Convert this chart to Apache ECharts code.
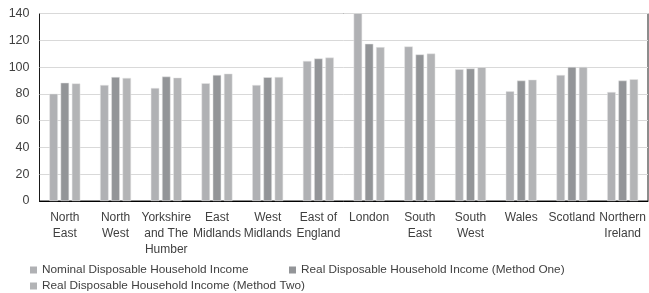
<!DOCTYPE html>
<html>
<head>
<meta charset="utf-8">
<script src="https://cdn.jsdelivr.net/npm/echarts@6/dist/echarts.min.js"></script>
<style>
  html, body { margin: 0; padding: 0; background: #fff; }
  #chart { width: 649px; height: 293px; }
</style>
</head>
<body>
<div id="chart"></div>
<script>
var regions = ['North\nEast', 'North\nWest', 'Yorkshire\nand The\nHumber', 'East\nMidlands', 'West\nMidlands',
  'East of\nEngland', 'London', 'South\nEast', 'South\nWest', 'Wales', 'Scotland', 'Northern\nIreland']
var nominal = [80.1, 86.6, 84.4, 87.9, 86.6, 104.6, 145, 115.4, 98.4, 81.9, 94.1, 81.4]
var realOne = [88.3, 92.6, 92.9, 94.1, 92.4, 106.4, 117.4, 109.4, 98.9, 89.9, 100.1, 89.9]
var realTwo = [87.8, 91.9, 92.1, 95.1, 92.6, 107.1, 114.9, 110.1, 99.9, 90.6, 100.1, 90.9]
var yTicks = [0, 20, 40, 60, 80, 100, 120, 140]

var font = 'Liberation Sans, sans-serif'
var textColor = '#404040'

function legendAt (name, left, top) {
  return {
    data: [name],
    left: left,
    top: top,
    icon: 'rect',
    itemWidth: 7,
    itemHeight: 7,
    selectedMode: false,
    padding: 0,
    itemStyle: { borderWidth: 0 },
    textStyle: { fontFamily: font, fontSize: 11.8, color: textColor }
  }
}

var chart = echarts.init(document.getElementById('chart'))
chart.setOption({
  animation: false,
  grid: {
    left: 39.5,
    right: 1,
    top: 13.5,
    bottom: 92,
    show: true,
    borderColor: '#1a1a1a',
    borderWidth: 1
  },
  legend: [
    legendAt('Nominal Disposable Household Income', 30, 264),
    legendAt('Real Disposable Household Income (Method One)', 289, 264),
    legendAt('Real Disposable Household Income (Method Two)', 30, 280)
  ],
  xAxis: {
    type: 'category',
    data: regions,
    axisLine: { lineStyle: { color: '#000', width: 1 } },
    axisTick: { show: false },
    axisLabel: {
      interval: 0,
      margin: 9,
      fontFamily: font,
      fontSize: 12,
      lineHeight: 16,
      color: textColor
    }
  },
  yAxis: {
    type: 'value',
    min: yTicks[0],
    max: yTicks[yTicks.length - 1],
    interval: 20,
    axisLine: { show: false },
    axisTick: { show: false },
    splitLine: { lineStyle: { color: '#d9d9d9', width: 1 } },
    axisLabel: { fontFamily: font, fontSize: 12.5, color: textColor, margin: 10 }
  },
  series: [
    {
      name: 'Nominal Disposable Household Income',
      type: 'bar',
      data: nominal,
      barGap: '32%',
      barCategoryGap: '39%',
      itemStyle: { color: '#b0b1b4', borderColor: '#e6e6e6', borderWidth: 0.5 }
    },
    {
      name: 'Real Disposable Household Income (Method One)',
      type: 'bar',
      data: realOne,
      itemStyle: { color: '#939598', borderColor: '#e6e6e6', borderWidth: 0.5 }
    },
    {
      name: 'Real Disposable Household Income (Method Two)',
      type: 'bar',
      data: realTwo,
      itemStyle: { color: '#b3b4b6', borderColor: '#e6e6e6', borderWidth: 0.5 }
    }
  ]
})
</script>
</body>
</html>
